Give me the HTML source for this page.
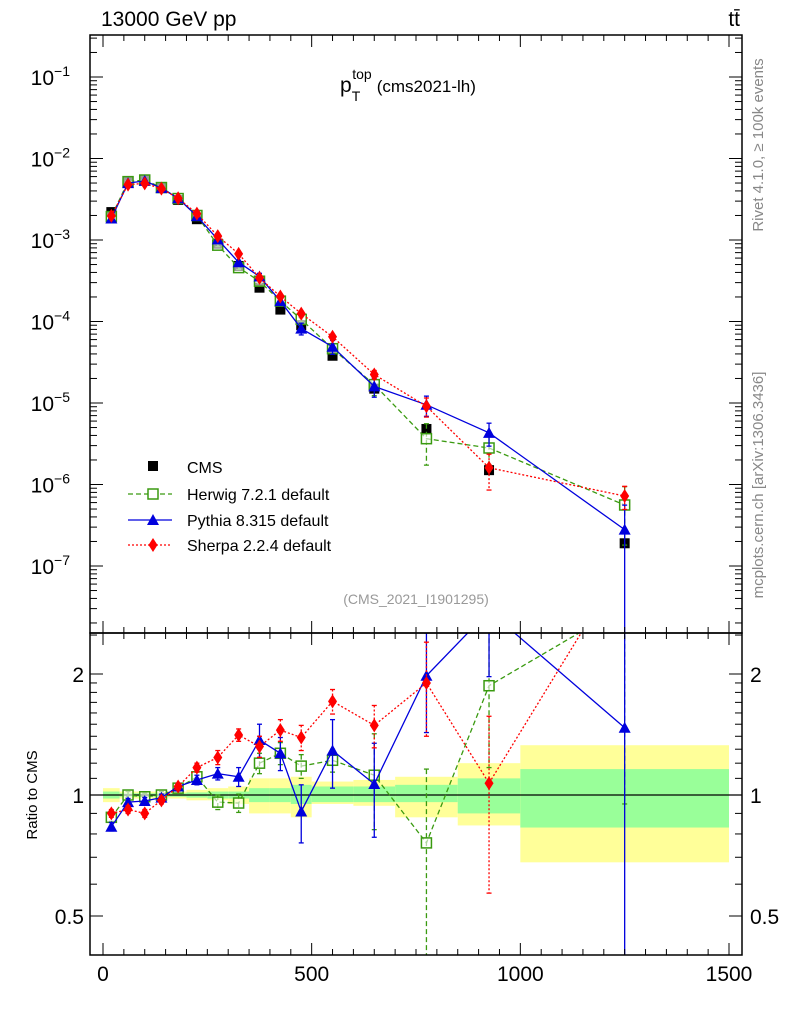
<!DOCTYPE html>
<html><head><meta charset="utf-8"><style>
html,body{margin:0;padding:0;background:#fff;width:786px;height:1024px;overflow:hidden;position:relative;}
svg{display:block;font-family:"Liberation Sans",sans-serif;}
</style></head><body>
<svg id="chart" width="786" height="1024" viewBox="0 0 786 1024" style="position:absolute;left:0;top:0"></svg>
<script>
const binLo   = [0,40,80,120,160,200,250,300,350,400,450,500,600,700,850,1000];
const binHi   = [40,80,120,160,200,250,300,350,400,450,500,600,700,850,1000,1500];
const cmsVals = [2.2e-3,5.2e-3,5.5e-3,4.4e-3,3.1e-3,1.8e-3,9.0e-4,4.8e-4,2.6e-4,1.4e-4,9.0e-5,3.8e-5,1.5e-5,4.8e-6,1.5e-6,1.9e-7];
const herwigRatio = [0.88,1.0,0.99,1.0,1.04,1.11,0.96,0.955,1.2,1.27,1.18,1.22,1.12,0.76,1.87,2.95];
const herwigErr   = [0.02,0.02,0.02,0.02,0.02,0.03,0.04,0.05,0.07,0.08,0.08,0.08,0.3,0.4,0.7,2.0];
const pythiaRatio = [0.834,0.96,0.966,0.985,1.05,1.09,1.13,1.11,1.37,1.27,0.91,1.29,1.065,1.98,2.87,1.47];
const pythiaErr   = [0.02,0.02,0.02,0.02,0.02,0.03,0.04,0.06,0.13,0.12,0.15,0.25,0.28,0.55,0.9,1.47];
const sherpaRatio = [0.90,0.92,0.90,0.97,1.05,1.17,1.24,1.41,1.32,1.45,1.39,1.71,1.49,1.90,1.07,3.8];
const sherpaErr   = [0.02,0.02,0.02,0.02,0.02,0.03,0.05,0.05,0.08,0.09,0.1,0.12,0.18,0.5,0.5,1.2];
const yelUp = [1.04,1.02,1.02,1.02,1.02,1.03,1.04,1.05,1.10,1.10,1.11,1.08,1.09,1.11,1.20,1.33];
const yelDn = [0.96,0.98,0.98,0.98,0.98,0.97,0.97,0.95,0.90,0.90,0.88,0.95,0.94,0.88,0.84,0.68];
const grnUp = [1.02,1.01,1.01,1.01,1.01,1.015,1.02,1.02,1.04,1.04,1.06,1.05,1.05,1.06,1.10,1.16];
const grnDn = [0.98,0.99,0.99,0.99,0.99,0.985,0.98,0.98,0.96,0.96,0.95,0.96,0.96,0.96,0.90,0.83];
const xTicks = [0,500,1000,1500];
const mainTickExp = [-1,-2,-3,-4,-5,-6,-7];
const ratioTicks = [0.5,1,2];

const NS="http://www.w3.org/2000/svg";
const svg=document.getElementById('chart');
function el(t,a,p){const e=document.createElementNS(NS,t);for(const k in a)e.setAttribute(k,a[k]);(p||svg).appendChild(e);return e;}
const L=90,R=742,T=35,MB=633,B=955;
const X=v=>103+v*(729-103)/1500;
const YM=v=>77+(-1-Math.log10(v))*81.5;
const YR=r=>795-Math.log2(r)*121;
const cx=binLo.map((l,i)=>(l+binHi[i])/2);

const defs=el('defs',{});
const c1=el('clipPath',{id:'cm'},defs);el('rect',{x:L,y:T,width:R-L,height:MB-T},c1);
const c2=el('clipPath',{id:'cr'},defs);el('rect',{x:L,y:MB,width:R-L,height:B-MB},c2);

const gM=el('g',{'clip-path':'url(#cm)'});

const gR=el('g',{'clip-path':'url(#cr)'});


binLo.forEach((l,i)=>{
  const y=el('rect',{x:X(l),y:YR(yelUp[i]),width:X(binHi[i])-X(l),height:YR(yelDn[i])-YR(yelUp[i]),fill:'#ffff99'},gR);
  
  const g=el('rect',{x:X(l),y:YR(grnUp[i]),width:X(binHi[i])-X(l),height:YR(grnDn[i])-YR(grnUp[i]),fill:'#99ff99'},gR);
  
});
el('line',{x1:L,x2:R,y1:YR(1),y2:YR(1),stroke:'#000','stroke-width':1.2},gR);

function marker(g,type,x,y,col){
  let m;
  if(type==='sq') m=el('rect',{x:x-5,y:y-5,width:10,height:10,fill:'#000'},g);
  else if(type==='osq') m=el('rect',{x:x-5,y:y-5,width:10,height:10,fill:'#fff','fill-opacity':0.6,stroke:col,'stroke-width':1.5},g);
  else if(type==='tri') m=el('polygon',{points:`${x},${y-6} ${x-6},${y+5} ${x+6},${y+5}`,fill:col},g);
  else m=el('polygon',{points:`${x},${y-7} ${x-4.5},${y} ${x},${y+7} ${x+4.5},${y}`,fill:col},g);
  return m;
}
const series=[
 {name:'herwig',ratio:herwigRatio,err:herwigErr,col:'#3a9a10',dash:'5,3',m:'osq'},
 {name:'pythia',ratio:pythiaRatio,err:pythiaErr,col:'#0000dd',dash:'',m:'tri'},
 {name:'sherpa',ratio:sherpaRatio,err:sherpaErr,col:'#ff0000',dash:'2,2',m:'dia'}
];
cmsVals.forEach((v,i)=>{const m=marker(gM,'sq',X(cx[i]),YM(v));
  });
series.forEach(s=>{
  [[gM,i=>YM(cmsVals[i]*s.ratio[i]),i=>[YM(cmsVals[i]*(s.ratio[i]+s.err[i])),YM(Math.max(cmsVals[i]*(s.ratio[i]-s.err[i]),1e-9))]],
   [gR,i=>YR(s.ratio[i]),i=>[YR(s.ratio[i]+s.err[i]),YR(Math.max(s.ratio[i]-s.err[i],0.01))]]].forEach(([g,fy,fe])=>{
    const pts=cx.map((c,i)=>X(c)+','+fy(i)).join(' ');
    const pl=el('polyline',{points:pts,fill:'none',stroke:s.col,'stroke-width':1.3,'stroke-dasharray':s.dash},g);
    
    cx.forEach((c,i)=>{const [a,b]=fe(i);
      el('line',{x1:X(c),x2:X(c),y1:a,y2:b,stroke:s.col,'stroke-width':1.3,'stroke-dasharray':s.dash},g);
      el('line',{x1:X(c)-2.5,x2:X(c)+2.5,y1:a,y2:a,stroke:s.col,'stroke-width':1.3},g);
      el('line',{x1:X(c)-2.5,x2:X(c)+2.5,y1:b,y2:b,stroke:s.col,'stroke-width':1.3},g);
      const m=marker(g,s.m,X(c),fy(i),s.col);
      
    });
  });
});

el('rect',{x:L,y:T,width:R-L,height:MB-T,fill:'none',stroke:'#000','stroke-width':1.5});
el('rect',{x:L,y:MB,width:R-L,height:B-MB,fill:'none',stroke:'#000','stroke-width':1.5});
for(let v=0;v<=1500;v+=50){const maj=v%500===0;const len=maj?12:6;
  [[T,1],[MB,-1],[MB,1],[B,-1]].forEach(([y,d])=>el('line',{x1:X(v),x2:X(v),y1:y,y2:y+d*len,stroke:'#000','stroke-width':1}));}
xTicks.forEach(v=>{const t=el('text',{x:X(v),y:981,'font-size':21,'text-anchor':'middle'});t.textContent=v;
  });
for(let e=-8;e<=-1;e++){for(let k=1;k<=9;k++){const v=k*Math.pow(10,e);const y=YM(v);if(y<T||y>MB)continue;
  const len=k===1?13:7;el('line',{x1:L,x2:L+len,y1:y,y2:y,stroke:'#000'});el('line',{x1:R,x2:R-len,y1:y,y2:y,stroke:'#000'});}}
mainTickExp.forEach(e=>{const t=el('text',{x:70,y:YM(Math.pow(10,e))+8,'font-size':21,'text-anchor':'end'});
  t.textContent='10';const s=el('tspan',{dy:-9,'font-size':14},t);s.textContent='−'+(-e);
  });
[0.5,0.6,0.7,0.8,0.9,1,1.1,1.2,1.3,1.4,1.5,1.6,1.7,1.8,1.9,2,2.5].forEach(r=>{const y=YR(r);if(y<MB||y>B)return;
  const len=ratioTicks.includes(r)?13:7;el('line',{x1:L,x2:L+len,y1:y,y2:y,stroke:'#000'});el('line',{x1:R,x2:R-len,y1:y,y2:y,stroke:'#000'});});
ratioTicks.forEach(r=>{[[84,'end'],[750,'start']].forEach(([x,a])=>{const t=el('text',{x:x,y:YR(r)+8,'font-size':21,'text-anchor':a});t.textContent=r;
  });});
</script>
<svg width="786" height="1024" style="position:absolute;left:0;top:0;font-family:'Liberation Sans',sans-serif">
<text x="101" y="26" font-size="21">13000 GeV pp</text>
<text x="740" y="26" font-size="21" text-anchor="end">tt̄</text>
<text x="340" y="92" font-size="21">p<tspan dy="9" font-size="14">T</tspan><tspan dy="-22" dx="-8" font-size="14">top</tspan><tspan dy="13" dx="5" font-size="17">(cms2021-lh)</tspan></text>
<text x="416" y="604" font-size="14" fill="#999" text-anchor="middle">(CMS_2021_I1901295)</text>
<text transform="translate(763,145) rotate(-90)" font-size="15" fill="#888" text-anchor="middle">Rivet 4.1.0, ≥ 100k events</text>
<text transform="translate(763,485) rotate(-90)" font-size="15" fill="#888" text-anchor="middle">mcplots.cern.ch [arXiv:1306.3436]</text>
<text transform="translate(37,795) rotate(-90)" font-size="15" text-anchor="middle">Ratio to CMS</text>
<g>
<g><rect x="148" y="461" width="10" height="10" fill="#000"/><text x="187" y="473" font-size="16">CMS</text></g>
<g><line x1="128" x2="172" y1="494" y2="494" stroke="#3a9a10" stroke-width="1.3" stroke-dasharray="5,3"/><rect x="148" y="489" width="10" height="10" fill="#fff" stroke="#3a9a10" stroke-width="1.5"/><text x="187" y="500" font-size="16">Herwig 7.2.1 default</text></g>
<g><line x1="128" x2="172" y1="520" y2="520" stroke="#0000dd" stroke-width="1.3"/><polygon points="153,514 147,525 159,525" fill="#0000dd"/><text x="187" y="526" font-size="16">Pythia 8.315 default</text></g>
<g><line x1="128" x2="172" y1="545" y2="545" stroke="#ff0000" stroke-width="1.3" stroke-dasharray="2,2"/><polygon points="153,538 148.5,545 153,552 157.5,545" fill="#ff0000"/><text x="187" y="551" font-size="16">Sherpa 2.2.4 default</text></g>
</g>
</svg>
</body></html>
